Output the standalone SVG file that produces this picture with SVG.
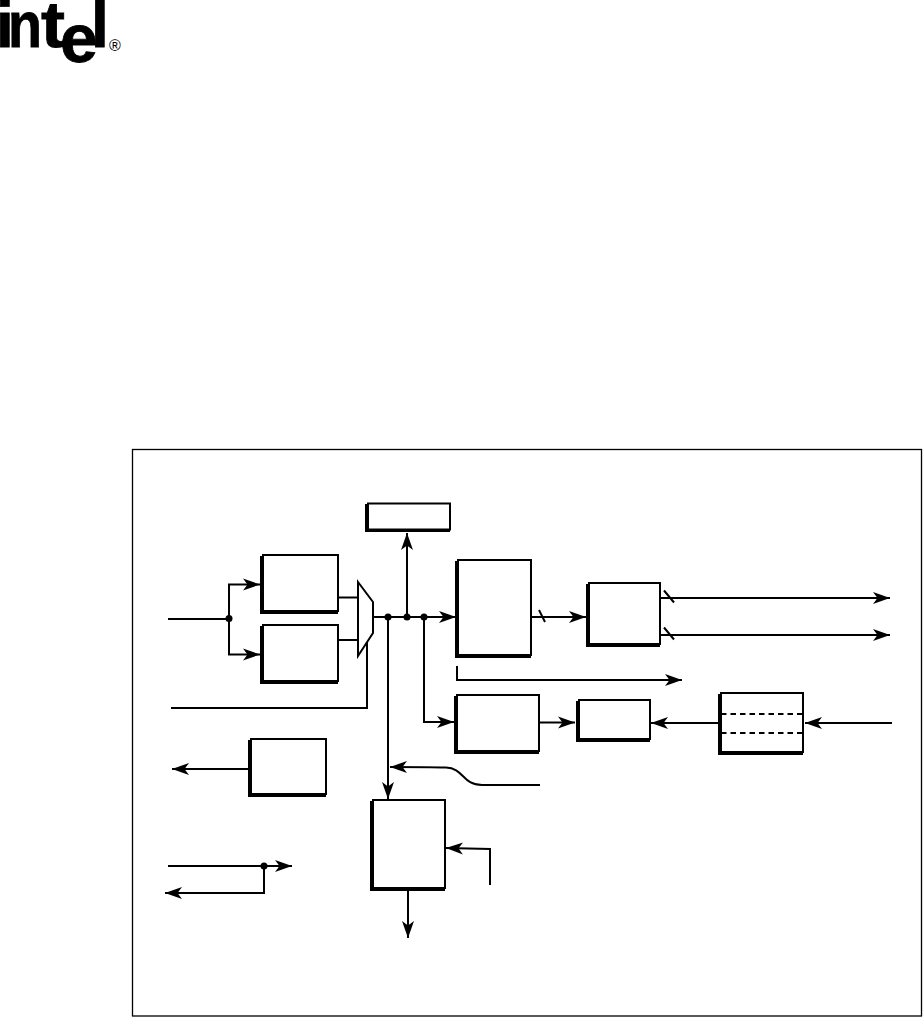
<svg xmlns="http://www.w3.org/2000/svg" width="923" height="1017" viewBox="0 0 923 1017">
<style>
.box{fill:#fff;stroke:#000;stroke-width:2}
.sh{fill:#000;stroke:#000;stroke-width:2}
.c{fill:none;stroke:#000;stroke-width:2}
.a{fill:none;stroke:#000;stroke-width:2;marker-end:url(#ah)}
.d{fill:#000}
.logo{font-family:"Liberation Sans",Arial,sans-serif;font-weight:700;font-size:64px;fill:#000;stroke:#000;stroke-width:.8}
</style>
<defs>
<marker id="ah" markerUnits="userSpaceOnUse" markerWidth="20" markerHeight="14" refX="17" refY="7" orient="auto">
<path d="M0,1 L17,7 L0,13 L4.500,7 Z" fill="#000"/>
</marker>
</defs>
<rect width="923" height="1017" fill="#fff"/>
<g id="logo">
<text class="logo" x="-4" y="47">i</text>
<text class="logo" x="8" y="47" textLength="34" lengthAdjust="spacingAndGlyphs">n</text>
<text class="logo" x="41" y="47" textLength="24" lengthAdjust="spacingAndGlyphs">t</text>
<text class="logo" x="60" y="62" style="font-size:68px">e</text>
<text class="logo" x="91" y="47">l</text>
<text x="109" y="51" font-size="16" font-family="Liberation Sans,sans-serif" fill="#000">®</text>
</g>
<rect id="frame" x="132.500" y="449.500" width="789" height="566.500" fill="none" stroke="#000" stroke-width="1.300"/>
<g id="connectors">
<path class="c" d="M168,619H229"/>
<path class="a" d="M229,619V584.500H260"/>
<path class="a" d="M229,619V654.500H260"/>
<path class="c" d="M339,597.500H358M339,640H358"/>
<path class="c" d="M171,708H367V642"/>
<path class="a" d="M373,617H456"/>
<path class="a" d="M407,617V533"/>
<path class="a" d="M388,617V799"/>
<path class="a" d="M424,617V722H454"/>
<path class="a" d="M532,617H586"/>
<path class="c" d="M539,610L545,622"/>
<path class="a" d="M661,598H890"/>
<path class="a" d="M661,635H890"/>
<path class="c" d="M664,590.500L674,602.500M664,627.500L674,639.500"/>
<path class="a" d="M457,666V680H682"/>
<path class="a" d="M540,722.500H575"/>
<path class="a" d="M718,723H651"/>
<path class="a" d="M892,723H805"/>
<path class="a" d="M249,769H172"/>
<path class="a" d="M540,785H482C462,785 464,768 446,767.500C430,767 410,767 390,767"/>
<path class="c" d="M168,866H264"/>
<path class="a" d="M264,866H292"/>
<path class="a" d="M264,866V893H165"/>
<path class="a" d="M490,885V849L446,848"/>
<path class="a" d="M408,890V938"/>
<circle class="d" cx="229" cy="618.500" r="3.500"/>
<circle class="d" cx="388" cy="617" r="3.500"/>
<circle class="d" cx="407" cy="617" r="3.500"/>
<circle class="d" cx="424" cy="617" r="3.500"/>
<circle class="d" cx="264" cy="866" r="3.500"/>
</g>
<g id="box-top"><rect class="sh" x="366" y="505" width="83" height="26"/><rect class="box" x="368" y="503.500" width="82" height="26"/></g>
<g id="box-a"><rect class="sh" x="261" y="557" width="76" height="56"/><rect class="box" x="263" y="555" width="75" height="56"/></g>
<g id="box-b"><rect class="sh" x="261" y="627" width="76" height="56"/><rect class="box" x="263" y="625" width="75" height="56"/></g>
<g id="mux"><polygon points="358,582 373,602 373,633 358,656" fill="#fff" stroke="#000" stroke-width="2"/></g>
<g id="box-c"><rect class="sh" x="456" y="562" width="74" height="95"/><rect class="box" x="458" y="560" width="73" height="95"/></g>
<g id="box-d"><rect class="sh" x="587" y="585" width="72" height="61"/><rect class="box" x="589" y="583" width="71" height="61"/></g>
<g id="box-e"><rect class="sh" x="455" y="697" width="83" height="56"/><rect class="box" x="457" y="695" width="82" height="56"/></g>
<g id="box-f"><rect class="sh" x="577" y="702" width="72" height="39"/><rect class="box" x="579" y="700" width="71" height="39"/></g>
<g id="box-g"><rect class="sh" x="719" y="695" width="83" height="59"/><rect class="box" x="721" y="693" width="82" height="59"/>
<path d="M721,714H803M721,733H803" fill="none" stroke="#000" stroke-width="2" stroke-dasharray="5.500 4"/></g>
<g id="box-h"><rect class="sh" x="249" y="741" width="76" height="55"/><rect class="box" x="251" y="739" width="75" height="55"/></g>
<g id="box-i"><rect class="sh" x="371" y="802" width="73" height="88"/><rect class="box" x="373" y="800" width="72" height="88"/></g>
</svg>
